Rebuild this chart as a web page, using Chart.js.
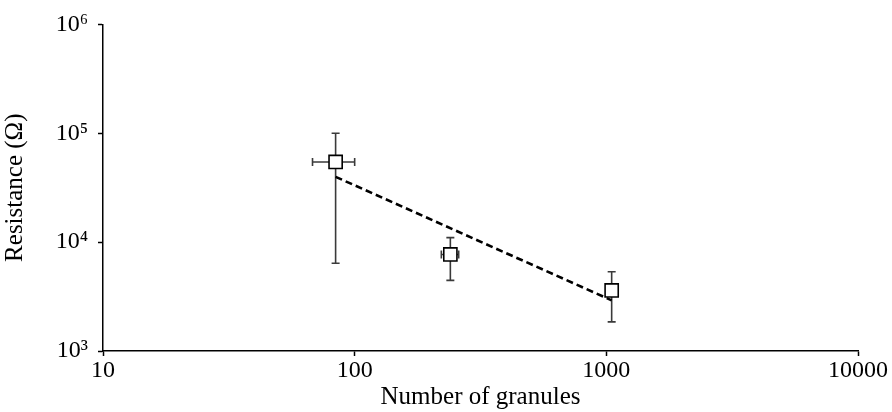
<!DOCTYPE html>
<html>
<head>
<meta charset="utf-8">
<script src="https://cdn.jsdelivr.net/npm/chart.js@4/dist/chart.umd.min.js"></script>
<style>
  html, body { margin: 0; padding: 0; background: #fff; }
  #wrap { width: 892px; height: 412px; }
</style>
</head>
<body>
<div id="wrap"><canvas id="myChart"></canvas></div>
<script>
// DATA
const granules = [84, 240, 1050];
const granulesLow = [68, 221, 1050];
const granulesHigh = [100, 259, 1050];
const resistance = [54500, 7700, 3600];
const resistanceLow = [6400, 4450, 1850];
const resistanceHigh = [100000, 11000, 5350];
// power-law trend line end points
const trendX = [84, 1050];
const trendY = [39800, 2920];
const xTicks = [10, 100, 1000, 10000];
const yTicks = [1000, 10000, 100000, 1000000];
const yTickLabels = { 1000: "10³", 10000: "10⁴", 100000: "10⁵", 1000000: "10⁶" };

const FONT = "'Liberation Serif', 'Times New Roman', serif";

// draw the error bars under the markers
const errorBars = {
  id: "errorBars",
  beforeDatasetsDraw(chart) {
    const { ctx } = chart;
    const x = chart.scales.x;
    const y = chart.scales.y;
    const cap = 4;
    ctx.save();
    ctx.strokeStyle = "#3a3a3a";
    ctx.lineWidth = 1.6;
    granules.forEach((g, i) => {
      const px = x.getPixelForValue(g);
      const yt = y.getPixelForValue(resistanceHigh[i]);
      const yb = y.getPixelForValue(resistanceLow[i]);
      ctx.beginPath();
      ctx.moveTo(px, yt); ctx.lineTo(px, yb);
      ctx.moveTo(px - cap, yt); ctx.lineTo(px + cap, yt);
      ctx.moveTo(px - cap, yb); ctx.lineTo(px + cap, yb);
      ctx.stroke();
      if (granulesLow[i] !== granulesHigh[i]) {
        const py = y.getPixelForValue(resistance[i]);
        const xl = x.getPixelForValue(granulesLow[i]);
        const xr = x.getPixelForValue(granulesHigh[i]);
        ctx.beginPath();
        ctx.moveTo(xl, py); ctx.lineTo(xr, py);
        ctx.moveTo(xl, py - cap); ctx.lineTo(xl, py + cap);
        ctx.moveTo(xr, py - cap); ctx.lineTo(xr, py + cap);
        ctx.stroke();
      }
    });
    ctx.restore();
  },
};

const ctx = document.getElementById("myChart").getContext("2d");
const chart = new Chart(ctx, {
  type: "scatter",
  data: {
    datasets: [
      {
        label: "Resistance",
        data: granules.map((g, i) => ({ x: g, y: resistance[i] })),
        pointStyle: "rect",
        pointRadius: 9.3,
        pointHoverRadius: 9.3,
        pointBackgroundColor: "#ffffff",
        pointBorderColor: "#000000",
        pointBorderWidth: 1.6,
        order: 0,
      },
      {
        type: "line",
        label: "Trend",
        data: trendX.map((t, i) => ({ x: t, y: trendY[i] })),
        borderColor: "#000000",
        borderWidth: 2.6,
        borderDash: [7, 4],
        pointRadius: 0,
        fill: false,
        order: 1,
      },
    ],
  },
  options: {
    responsive: true,
    maintainAspectRatio: false,
    animation: false,
    layout: { padding: { top: 22, right: 34, bottom: 0, left: 0 } },
    plugins: { legend: { display: false }, tooltip: { enabled: false } },
    scales: {
      x: {
        type: "logarithmic",
        min: 10,
        max: 10000,
        afterBuildTicks: (scale) => { scale.ticks = xTicks.map((v) => ({ value: v })); },
        afterFit: (scale) => { scale.height = 61; },
        grid: { drawOnChartArea: false, tickLength: 5, color: "#000", tickColor: "#000", tickWidth: 1.5 },
        border: { color: "#000", width: 1.5 },
        ticks: {
          color: "#000",
          font: { family: FONT, size: 24 },
          padding: 0,
          maxRotation: 0,
          autoSkip: false,
          callback: (v) => String(v),
        },
        title: {
          display: true,
          text: "Number of granules",
          color: "#000",
          font: { family: FONT, size: 25 },
          padding: { top: -4, bottom: 0 },
        },
      },
      y: {
        type: "logarithmic",
        min: 1000,
        max: 1000000,
        afterBuildTicks: (scale) => { scale.ticks = yTicks.map((v) => ({ value: v })); },
        afterFit: (scale) => { scale.width = 103; },
        grid: { drawOnChartArea: false, tickLength: 5, color: "#000", tickColor: "#000", tickWidth: 1.5 },
        border: { color: "#000", width: 1.5 },
        ticks: {
          color: "#000",
          font: { family: FONT, size: 24 },
          padding: 10,
          autoSkip: false,
          callback: (v) => yTickLabels[v] || "",
        },
        title: {
          display: true,
          text: "Resistance (Ω)",
          color: "#000",
          font: { family: FONT, size: 25 },
          padding: { top: 0, bottom: 4 },
        },
      },
    },
  },
  plugins: [errorBars],
});
</script>
</body>
</html>
